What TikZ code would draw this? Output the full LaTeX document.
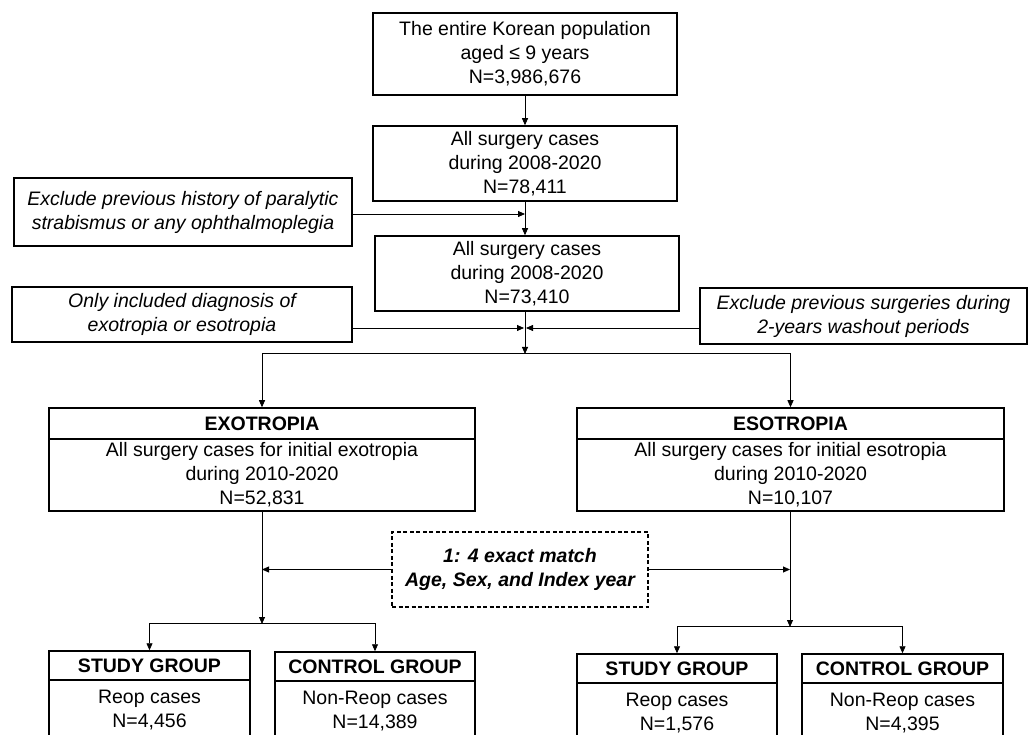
\documentclass[tikz,border=0pt]{standalone}
\usepackage{fontspec}
\setmainfont{Liberation Sans}
\usetikzlibrary{arrows.meta}
\begin{document}
\begin{tikzpicture}[x=1pt,y=-1pt,
  box/.style={draw, line width=1.5pt, rectangle, inner sep=0pt, align=center, font=\fontsize{19.5}{24}\selectfont},
  ibox/.style={box, font=\fontsize{19.5}{24}\selectfont\itshape},
  hbox/.style={box, font=\fontsize{19.5}{24}\selectfont\bfseries},
  dbox/.style={box, dash pattern=on 4pt off 2.5pt, font=\fontsize{19.5}{24}\selectfont\bfseries\itshape},
  sz/.style 2 args={minimum width=#1pt, minimum height=#2pt},
  arr/.style={-{Triangle[length=7pt,width=6pt]}, line width=0.8pt},
  ln/.style={line width=0.8pt}]
\useasboundingbox (0,0) rectangle (1029,735);
\clip (0,0) rectangle (1029,735);
\fill[white] (0,0) rectangle (1029,735);

% main column
\node[box, sz={304}{82}] (top) at (525,54) {The entire Korean population\\aged ≤ 9 years\\N=3,986,676};
\node[box, sz={304}{75}] (b2) at (525,163.5) {All surgery cases\\during 2008-2020\\N=78,411};
\node[box, sz={304}{75}] (b3) at (527,273.5) {All surgery cases\\during 2008-2020\\N=73,410};

% exclusion boxes
\node[ibox, sz={338}{68}] (ex1) at (183,212) {Exclude previous history of paralytic\\strabismus or any ophthalmoplegia};
\node[ibox, sz={340}{55}] (ex2) at (182,314.5) {Only included diagnosis of\\exotropia or esotropia};
\node[ibox, sz={327}{56}] (ex3) at (863.5,316) {Exclude previous surgeries during\\2-years washout periods};

% groups
\node[hbox, sz={426}{31}] (exoH) at (262,423.5) {EXOTROPIA};
\node[box, sz={426}{72}] (exoB) at (262,475) {All surgery cases for initial exotropia\\during 2010-2020\\N=52,831};
\node[hbox, sz={427}{31}] (esoH) at (790.5,423.5) {ESOTROPIA};
\node[box, sz={427}{72}] (esoB) at (790.5,475) {All surgery cases for initial esotropia\\during 2010-2020\\N=10,107};

\node[dbox, sz={256}{75}] (match) at (520,569.5) {1: 4 exact match\\Age, Sex, and Index year};

% bottom boxes
\node[hbox, sz={201}{29}] (stLH) at (149.5,665.5) {STUDY GROUP};
\node[box, sz={201}{60}] (stLB) at (149.5,710) {Reop cases\\N=4,456};
\node[hbox, sz={200}{29}] (ctLH) at (375,666.5) {CONTROL GROUP};
\node[box, sz={200}{60}] (ctLB) at (375,711) {Non-Reop cases\\N=14,389};
\node[hbox, sz={200}{29}] (stRH) at (677,668.5) {STUDY GROUP};
\node[box, sz={200}{60}] (stRB) at (677,713) {Reop cases\\N=1,576};
\node[hbox, sz={201}{29}] (ctRH) at (902.5,668.5) {CONTROL GROUP};
\node[box, sz={201}{60}] (ctRB) at (902.5,713) {Non-Reop cases\\N=4,395};

% connectors
\coordinate (j1) at (525,214);
\coordinate (j2) at (525,328);
\coordinate (split) at (525,353);
\coordinate (sL) at (262,623);
\coordinate (sR) at (790,626);

\draw[arr] (top.south) -- (b2.north);
\draw[arr] (b2.south -| j1) -- (b3.north -| j1);
\draw[arr] (ex1.east |- j1) -- (j1);
\draw[arr] (b3.south -| split) -- ([yshift=-1pt]split);
\draw[arr] (ex2.east |- j2) -- ([xshift=-1pt]j2);
\draw[arr] (ex3.west |- j2) -- ([xshift=1pt]j2);
\draw[arr] (split) -| (exoH.north);
\draw[arr] (split) -| (esoH.north);

\draw[arr] (exoB.south -| sL) -- ([yshift=-1pt]sL);
\draw[arr] (esoB.south -| sR) -- ([yshift=-1pt]sR);
\draw[arr] (match.west) -- (match.west -| sL);
\draw[arr] (match.east) -- (match.east -| sR);

\draw[arr] (sL) -| (stLH.north);
\draw[arr] (sL) -| (ctLH.north);
\draw[arr] (sR) -| (stRH.north);
\draw[arr] (sR) -| (ctRH.north);
\end{tikzpicture}
\end{document}
